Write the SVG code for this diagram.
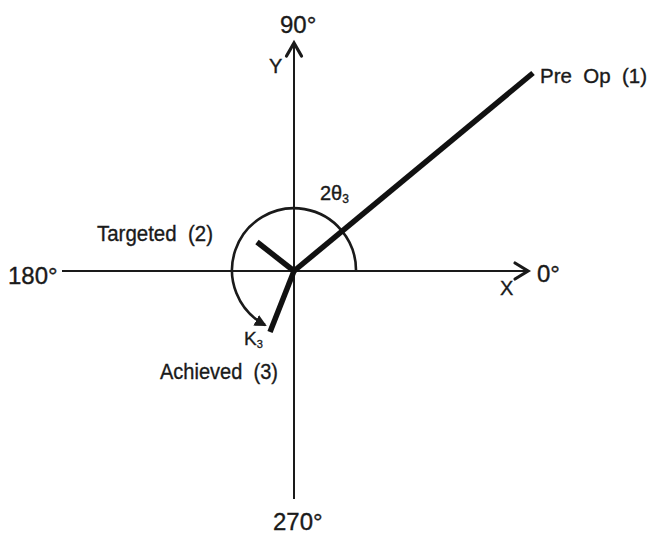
<svg xmlns="http://www.w3.org/2000/svg" width="650" height="535" viewBox="0 0 650 535">
<defs>
<style>
.t{font-family:"Liberation Sans",Arial,sans-serif;fill:#1a1a1a;stroke:#1a1a1a;stroke-width:0.35}
.ax{stroke:#1a1a1a;stroke-width:2;fill:none}
.head{stroke:#1a1a1a;stroke-width:3.2;fill:none;stroke-linecap:round;stroke-linejoin:miter}
.vec{stroke:#111;stroke-width:5.5;fill:none;stroke-linecap:butt}
.arc{stroke:#1a1a1a;stroke-width:2.6;fill:none}
</style>
<marker id="arcHead" markerWidth="14" markerHeight="14" refX="10" refY="6" orient="auto" markerUnits="userSpaceOnUse">
<path d="M0,0 L12,6 L0,12 Z" fill="#1a1a1a"/>
</marker>
</defs>
<rect width="650" height="535" fill="#fff"/>
<g id="connectors">
<g id="x-axis">
<line class="ax" x1="62" y1="271" x2="527" y2="271"/>
<path class="head" d="M515,263 L528,271 L515,279"/>
</g>
<g id="y-axis">
<line class="ax" x1="294" y1="44" x2="294" y2="499"/>
<path class="head" d="M286.5,56 L294,43 L301.5,56"/>
</g>
<path id="angle-arc" class="arc" d="M356,271 A62,62 0 1 0 265,325" marker-end="url(#arcHead)"/>
<line id="preop-vec" class="vec" x1="294" y1="271" x2="533" y2="73"/>
<line id="targeted-vec" class="vec" x1="294" y1="271" x2="257" y2="242"/>
<line id="achieved-vec" class="vec" x1="294" y1="271" x2="270" y2="332"/>
</g>
<g id="labels">
<text id="lbl-90" class="t" x="280" y="33" font-size="24">90°</text>
<text id="lbl-270" class="t" x="273" y="530" font-size="24">270°</text>
<text id="lbl-180" class="t" x="8" y="284" font-size="24">180°</text>
<text id="lbl-0" class="t" x="537" y="282" font-size="24">0°</text>
<text id="lbl-y" class="t" x="269" y="73" font-size="20">Y</text>
<text id="lbl-x" class="t" x="500" y="295" font-size="20">X</text>
<text id="lbl-preop" class="t" x="540" y="83" font-size="20" textLength="107" lengthAdjust="spacingAndGlyphs" xml:space="preserve">Pre  Op  (1)</text>
<text id="lbl-targeted" class="t" x="97" y="241" font-size="22" textLength="116" lengthAdjust="spacingAndGlyphs" xml:space="preserve">Targeted  (2)</text>
<text id="lbl-achieved" class="t" x="160" y="379" font-size="22" textLength="118" lengthAdjust="spacingAndGlyphs" xml:space="preserve">Achieved  (3)</text>
<text id="lbl-2theta" class="t" x="320" y="200" font-size="20">2θ<tspan font-size="12" dy="3">3</tspan></text>
<text id="lbl-k3" class="t" x="244" y="345" font-size="19">K<tspan font-size="11" dy="3">3</tspan></text>
</g>
</svg>
